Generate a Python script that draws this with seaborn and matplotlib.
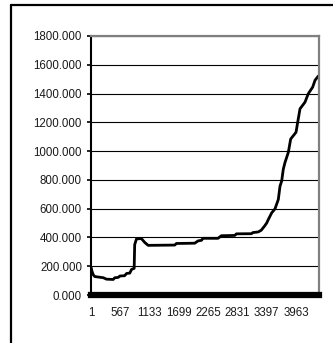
import matplotlib
matplotlib.use("Agg")
import matplotlib.pyplot as plt
from matplotlib.lines import Line2D
import seaborn as sns
import pandas as pd

# Series: observation number and measured value
obs = [1, 20, 45, 75, 140, 240, 300, 430, 460, 525, 560, 650, 690, 750, 785,
       835, 845, 880, 975, 1040, 1105, 1620, 1650, 2005, 2070, 2135, 2165,
       2455, 2520, 2780, 2810, 3100, 3130, 3230, 3290, 3356, 3395, 3426,
       3492, 3556, 3620, 3653, 3685, 3716, 3749, 3813, 3859, 3962, 3994,
       4039, 4135, 4199, 4284, 4329, 4393]
values = [195, 165, 140, 128, 125, 120, 110, 108, 120, 122, 132, 134, 150,
          152, 178, 185, 350, 390, 392, 365, 345, 347, 358, 360, 376, 380,
          394, 394, 412, 414, 425, 426, 434, 438, 450, 480, 500, 524, 571,
          599, 664, 757, 792, 874, 921, 991, 1084, 1131, 1200, 1294, 1340,
          1399, 1445, 1492, 1522]

x_ticks = [1, 567, 1133, 1699, 2265, 2831, 3397, 3963]
y_ticks = [0, 200, 400, 600, 800, 1000, 1200, 1400, 1600, 1800]

df = pd.DataFrame({"obs": obs, "value": values})

sns.set_style("white")
plt.rcParams["font.family"] = ["Liberation Sans", "DejaVu Sans"]

fig = plt.figure(figsize=(3.33, 3.43), dpi=100)
ax = fig.add_axes([91 / 333, 48 / 343, 228 / 333, 259 / 343])

sns.lineplot(data=df, x="obs", y="value", ax=ax, color="black", linewidth=2.0)

ax.set_xlim(1, 4406)
ax.set_ylim(0, 1800)
ax.set_xticks(x_ticks)
ax.set_xticklabels([str(t) for t in x_ticks])
ax.set_yticks(y_ticks)
ax.set_yticklabels([f"{t:.3f}" for t in y_ticks])
ax.set_xlabel("")
ax.set_ylabel("")

ax.yaxis.grid(True, color="black", linewidth=0.8)
ax.xaxis.grid(False)
ax.set_axisbelow(True)

ax.tick_params(axis="y", direction="out", length=3, width=1.2, color="black",
               pad=3.5, labelsize=8.3, labelcolor="#1a1a1a", left=True)
ax.tick_params(axis="x", length=0, pad=9, labelsize=8.3, labelcolor="#1a1a1a")

for side in ("top", "right"):
    ax.spines[side].set_color("#808080")
    ax.spines[side].set_linewidth(1.6)
ax.spines["left"].set_color("black")
ax.spines["left"].set_linewidth(1.5)
ax.spines["bottom"].set_color("black")
ax.spines["bottom"].set_linewidth(4.5)

# outer chart frame
fig.add_artist(Line2D([11 / 333, 1.0], [1 - 5 / 343, 1 - 5 / 343],
                      transform=fig.transFigure, color="black", linewidth=1.6))
fig.add_artist(Line2D([11 / 333, 11 / 333], [0.0, 1 - 5 / 343],
                      transform=fig.transFigure, color="black", linewidth=1.6))

fig.savefig("out.png", dpi=100)
